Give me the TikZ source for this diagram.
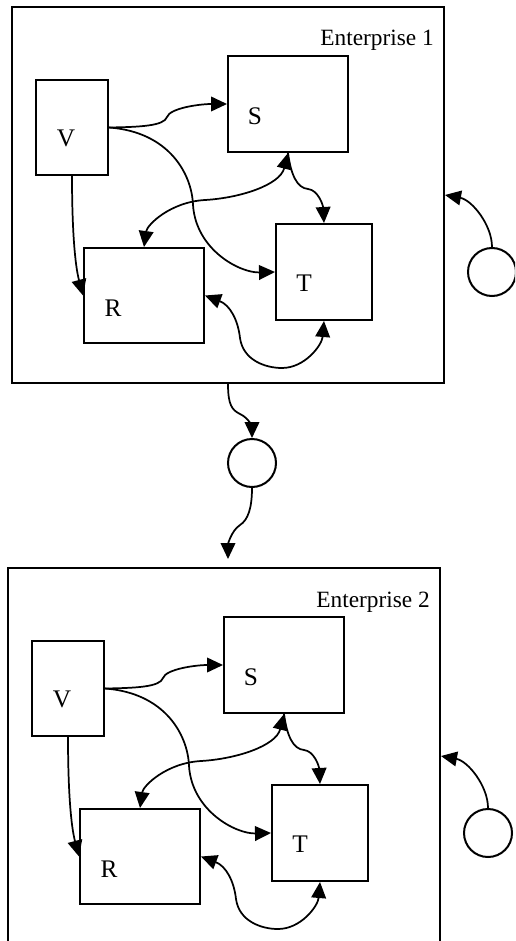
\documentclass[tikz,border=0pt]{standalone}
\usepackage{fontspec}
\setmainfont{Liberation Serif}
\usetikzlibrary{arrows.meta,fit}
\newcommand\entbody[1]{%
  \node[box,fit={(12,7) (444,383)}] (box) {};
  \node[lbl,anchor=base east] (title) at (434,46) {Enterprise #1};
  \node[box,fit={(36,80) (108,175)}] (V) {};
  \node[box,fit={(228,56) (348,152)}] (S) {};
  \node[box,fit={(84,248) (204,343)}] (R) {};
  \node[box,fit={(276,224) (372,320)}] (T) {};
  \node[letter] (Vl) at (66,138) {V};
  \node[letter] (Sl) at (255,116) {S};
  \node[letter] (Rl) at (113,308) {R};
  \node[letter] (Tl) at (304,283) {T};
  \node[circ] (C) at (492,272) {};
  \draw[conn] (V.east) .. controls (140,127) and (164,126) .. (167,117) .. controls (170,108) and (200,104) .. (S.west);
  \draw[conn] (V.east) .. controls (170,132) and (192,175) .. (193,205) .. controls (196,250) and (240,273) .. (T.west);
  \draw[conn] (V.south) .. controls (72,230) and (75,265) .. (R.west);
  \draw[dconn] (S.south) .. controls (280,185) and (240,198) .. (205,200) .. controls (170,202) and (147,225) .. (R.north);
  \draw[conn] (S.south) .. controls (291,175) and (297,188) .. (308,189) .. controls (318,190) and (323,205) .. (T.north);
  \draw[dconn] (R.east) .. controls (230,305) and (238,320) .. (240,338) .. controls (243,360) and (265,368) .. (282,368) .. controls (305,368) and (322,345) .. (T.south);
  \draw[conn] (C.north) .. controls (492,225) and (472,200) .. (box.east);
}
\begin{document}
\begin{tikzpicture}[x=0.75pt,y=-0.75pt,
  box/.style={draw,line width=1.5pt,inner sep=0pt},
  circ/.style={draw,circle,line width=1.5pt,minimum size=36pt,inner sep=0pt},
  lbl/.style={font=\fontsize{17.5}{20}\selectfont,inner sep=0pt},
  letter/.style={font=\fontsize{19}{22}\selectfont,inner sep=0pt},
  conn/.style={line width=1.3pt,-{Triangle[length=12pt,width=11pt]}},
  dconn/.style={line width=1.3pt,{Triangle[length=12pt,width=11pt]}-{Triangle[length=12pt,width=11pt]}}]
\useasboundingbox (0,0) rectangle (515,941);
\clip (0,0) rectangle (515,941);
\begin{scope}[name prefix=e1-]
  \entbody{1}
\end{scope}
\begin{scope}[shift={(-4,561)},name prefix=e2-]
  \entbody{2}
\end{scope}
\node[circ] (M) at (252,463) {};
\coordinate (in2) at (228,559);
\draw[conn] (e1-box.south) .. controls (228,405) and (232,410) .. (240,414) .. controls (249,418) and (252,428) .. (M.north);
\draw[conn] (M.south) .. controls (252,508) and (248,520) .. (240,525) .. controls (231,531) and (228,545) .. (in2);
\end{tikzpicture}
\end{document}
